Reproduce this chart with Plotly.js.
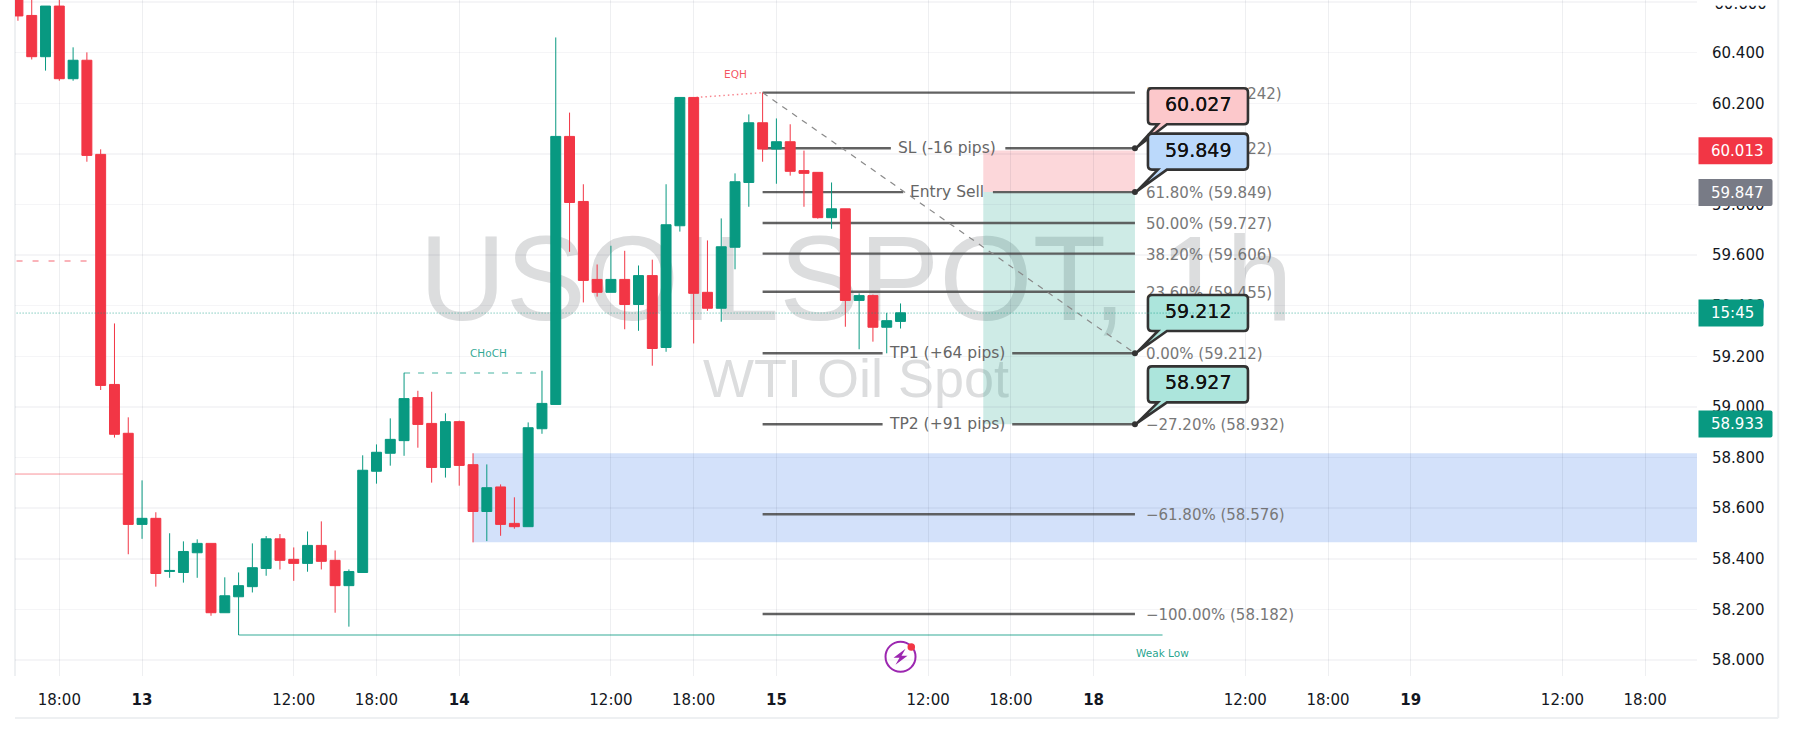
<!DOCTYPE html>
<html><head><meta charset="utf-8">
<script src="https://cdn.plot.ly/plotly-3.0.1.min.js"></script>
<style>html,body{margin:0;padding:0;background:#fff}#c{width:1793px;height:740px}</style>
</head><body><div id="c"></div>
<script>
const barIndex = [];
for (let b = -3; b <= 61; b++) barIndex.push(b);
const open = [60.634,60.547,60.384,60.584,60.297,60.370,59.998,59.089,58.896,58.536,58.560,58.350,58.346,58.424,58.461,58.187,58.250,58.290,58.362,58.479,58.398,58.382,58.453,58.394,58.294,58.346,58.746,58.817,58.867,59.037,58.935,58.761,58.942,58.772,58.587,58.684,58.540,58.527,58.914,59.010,60.069,59.812,59.504,59.453,59.504,59.405,59.519,59.235,59.716,60.223,59.453,59.390,59.631,59.887,60.123,60.019,60.048,59.934,59.927,59.748,59.783,59.421,59.440,59.315,59.338];
const high = [60.650,60.650,60.584,60.620,60.421,60.401,60.018,59.330,58.959,58.710,58.584,58.501,58.469,58.477,58.461,58.327,58.346,58.461,58.490,58.498,58.445,58.508,58.548,58.433,58.358,58.809,58.852,58.955,59.135,59.064,59.060,58.975,58.946,58.817,58.773,58.694,58.643,58.939,59.143,60.460,60.163,59.880,59.563,59.637,59.617,59.559,59.582,59.880,60.223,60.223,59.658,59.745,59.923,60.156,60.242,60.140,60.117,60.013,59.927,59.887,59.783,59.449,59.444,59.372,59.409];
const low = [60.526,60.373,60.329,60.289,60.289,59.969,59.067,58.879,58.418,58.479,58.290,58.325,58.306,58.325,58.175,58.187,58.099,58.267,58.333,58.358,58.313,58.349,58.358,58.187,58.132,58.346,58.697,58.768,58.807,58.839,58.701,58.721,58.689,58.465,58.470,58.491,58.519,58.527,58.894,59.010,59.613,59.413,59.436,59.453,59.307,59.301,59.163,59.218,59.693,59.251,59.380,59.337,59.544,59.791,59.969,59.882,59.914,59.791,59.744,59.704,59.317,59.228,59.258,59.212,59.310];
const close = [60.545,60.384,60.584,60.297,60.370,59.994,59.085,58.892,58.536,58.560,58.342,58.354,58.429,58.461,58.187,58.254,58.294,58.365,58.479,58.394,58.382,58.453,58.390,58.294,58.350,58.750,58.821,58.872,59.033,58.931,58.761,58.942,58.769,58.587,58.681,58.536,58.527,58.918,59.014,60.069,59.808,59.500,59.453,59.504,59.405,59.519,59.231,59.720,60.223,59.449,59.390,59.633,59.890,60.123,60.019,60.048,59.931,59.923,59.748,59.783,59.421,59.440,59.315,59.341,59.372];
const tickBars = [0,6,17,23,29,40,46,52,63,69,75,86,92,98,109,115];
const tickLabels = ['18:00','<b>13</b>','12:00','18:00','<b>14</b>','12:00','18:00','<b>15</b>','12:00','18:00','<b>18</b>','12:00','18:00','<b>19</b>','12:00','18:00'];
const fibLabels = ['100.00% (60.242)','78.60% (60.022)','61.80% (59.849)','50.00% (59.727)','38.20% (59.606)','23.60% (59.455)','0.00% (59.212)','−27.20% (58.932)','−61.80% (58.576)','−100.00% (58.182)'];
const fibPrices = [60.242,60.022,59.849,59.727,59.606,59.455,59.212,58.932,58.576,58.182];
const fibGapStart = [null,60.3,61.2,null,null,null,59.7,59.7,null,null];
const fibGapEnd = [null,68.6,67.7,null,null,null,69.1,69.1,null,null];
const tradeTexts = ['SL (-16 pips)','Entry Sell','TP1 (+64 pips)','TP2 (+91 pips)'];
const tradePrices = [60.022,59.849,59.212,58.932];
const calloutPrices = [60.022,59.849,59.212,58.932];
const calloutTexts = ['60.027','59.849','59.212','58.927'];
const calloutFills = ['#fcc8cb','#bbd9fb','#ace5dc','#ace5dc'];
const flagPrices = [60.012,59.847,59.371,58.933];
const flagTexts = ['60.013','59.847','15:45','58.933'];
const flagFills = ['#f23645','#787b86','#089981','#089981'];
const flagWidths = [74,74,65,74];
const calloutRise = [24,22.5,22.3,21.8];

const X_L=-3.213, X_R=118.757;
const FIB_L = 51, FIB_R = 78, RED='#f23645', GRN='#089981', TXT='#131722', FONT='"DejaVu Sans", sans-serif';
const H = (x0,x1,y,color,width,dash,layer) => ({type:'line',xref:'x',yref:'y',x0,x1,y0:y,y1:y,layer:layer||'below',line:{color,width,dash:dash||'solid'}});

const shapes = [];
shapes.push({type:'rect',xref:'paper',yref:'paper',x0:0.3,x1:0.7,y0:0.513,y1:0.697,layer:'below',line:{width:0},fillcolor:'rgba(0,0,0,0)',
  label:{text:'USOILSPOT, 1h',textposition:'middle center',font:{family:'"Liberation Sans"',size:120,color:'#dcddde'}}});
shapes.push({type:'rect',xref:'paper',yref:'paper',x0:0.3,x1:0.7,y0:0.398,y1:0.498,layer:'below',line:{width:0},fillcolor:'rgba(0,0,0,0)',
  label:{text:'WTI Oil Spot',textposition:'middle center',font:{family:'"Liberation Sans"',size:54,color:'#dcddde'}}});
[[0,0,0,1],[0,1.0483,-0.0621,-0.0621],[1.0483,1.0483,-0.0621,1]].forEach(f=>shapes.push({type:'line',xref:'paper',yref:'paper',x0:f[0],x1:f[1],y0:f[2],y1:f[3],layer:'below',line:{color:'#eef0f2',width:2}}));
shapes.push({type:'rect',xref:'x',yref:'y',x0:30,x1:X_R,y0:58.465,y1:58.817,layer:'below',line:{width:0},fillcolor:'rgba(33,100,230,0.195)'});
shapes.push({type:'rect',xref:'x',yref:'y',x0:67,x1:FIB_R,y0:59.849,y1:60.013,layer:'below',line:{width:0},fillcolor:'rgba(242,54,69,0.2)'});
shapes.push({type:'rect',xref:'x',yref:'y',x0:67,x1:FIB_R,y0:58.932,y1:59.849,layer:'below',line:{width:0},fillcolor:'rgba(8,153,129,0.2)'});
shapes.push(H(-3.1,2.3,59.577,'rgba(242,54,69,0.5)',1.5,'6px,10px'));
shapes.push(H(-3.3,5,58.735,'rgba(242,54,69,0.55)',1));
shapes.push(H(25,35,59.134,'rgba(8,153,129,0.5)',1.5,'6px,8px'));
shapes.push(H(13,80,58.099,'rgba(8,153,129,0.55)',1.5));
shapes.push({type:'line',xref:'x',yref:'y',x0:46.2,x1:FIB_L,y0:60.223,y1:60.242,layer:'below',line:{color:'rgba(242,54,69,0.6)',width:1.5,dash:'1.5px,3px'}});
const FIBC='rgba(85,85,85,0.92)', FIBW=2.4;
fibPrices.forEach((p,i)=>{
  const lab = {text:fibLabels[i],textposition:'end',textangle:0,xanchor:'left',yanchor:'middle',padding:11,font:{family:FONT,size:15,color:'#787878'}};
  if (fibGapStart[i]===null) {
    shapes.push(Object.assign(H(FIB_L,FIB_R,p,FIBC,FIBW),{label:lab}));
  } else {
    shapes.push(H(FIB_L,fibGapStart[i],p,FIBC,FIBW));
    shapes.push(Object.assign(H(fibGapEnd[i],FIB_R,p,FIBC,FIBW),{label:lab}));
  }
});
shapes.push({type:'line',xref:'x',yref:'y',x0:FIB_L,x1:FIB_R,y0:fibPrices[0],y1:fibPrices[6],layer:'below',line:{color:'#8a8a8a',width:1.2,dash:'6px,6px'}});
const r=4,xa=13,xb=113;
calloutPrices.forEach((p,i)=>{
  const bot=calloutRise[i], top=bot+36;
  const path=`M ${xa+r} ${top} L ${xb-r} ${top} Q ${xb} ${top} ${xb} ${top-r} L ${xb} ${bot+r} Q ${xb} ${bot} ${xb-r} ${bot} L 32 ${bot} L 2 1 L 23 ${bot} L ${xa+r} ${bot} Q ${xa} ${bot} ${xa} ${bot+r} L ${xa} ${top-r} Q ${xa} ${top} ${xa+r} ${top} Z`;
  shapes.push({type:'path',xref:'x',yref:'y',xsizemode:'pixel',ysizemode:'pixel',xanchor:FIB_R,yanchor:p,path,layer:'above',fillcolor:calloutFills[i],line:{color:'#333',width:2.6}});
  shapes.push({type:'circle',xref:'x',yref:'y',xsizemode:'pixel',ysizemode:'pixel',xanchor:FIB_R,yanchor:p,x0:-3,x1:3,y0:-3,y1:3,layer:'above',fillcolor:'#333',line:{width:0}});
});
shapes.push(H(X_L-0.1,X_R,59.371,'rgba(8,153,129,0.75)',1,'1px,2px','above'));
// top tick label, mostly hidden by a white flag as in the reference
shapes.push({type:'rect',xref:'paper',yref:'paper',x0:1.0085,x1:1.045,y0:0.98,y1:1.012,layer:'above',line:{width:0},fillcolor:'rgba(0,0,0,0)',
  label:{text:'60.600',textposition:'middle left',padding:0,font:{family:FONT,size:15,color:TXT}}});
shapes.push({type:'rect',xref:'paper',yref:'paper',x0:1.0012,x1:1.0455,y0:0.9916,y1:1.002,layer:'above',line:{width:0},fillcolor:'#ffffff'});
flagPrices.forEach((p,i)=>{
  const w=flagWidths[i]+1.5,a=1.5,b=-13.5,c=13.5,q=2;
  shapes.push({type:'path',xref:'paper',yref:'y',xsizemode:'pixel',ysizemode:'pixel',xanchor:1,yanchor:p,layer:'above',fillcolor:flagFills[i],line:{width:0},
   path:`M ${a} ${c} L ${w-q} ${c} Q ${w} ${c} ${w} ${c-q} L ${w} ${b+q} Q ${w} ${b} ${w-q} ${b} L ${a} ${b} Z`});
});
const bx=61,by=58.013;
shapes.push({type:'circle',xref:'x',yref:'y',xsizemode:'pixel',ysizemode:'pixel',xanchor:bx,yanchor:by,x0:-15,x1:15,y0:-15,y1:15,layer:'above',fillcolor:'rgba(0,0,0,0)',line:{color:'#9c27b0',width:2}});
shapes.push({type:'path',xref:'x',yref:'y',xsizemode:'pixel',ysizemode:'pixel',xanchor:bx,yanchor:by,layer:'above',fillcolor:'#9c27b0',line:{width:0},path:'M 5 8 L -7 -1 L -1 -1 L -5 -8 L 7 1 L 1 1 Z'});
shapes.push({type:'circle',xref:'x',yref:'y',xsizemode:'pixel',ysizemode:'pixel',xanchor:bx,yanchor:by,x0:7,x1:14.5,y0:6,y1:13.5,layer:'above',fillcolor:RED,line:{width:0}});

const ann = (x,y,text,size,color,extra)=>Object.assign({xref:'x',yref:'y',x,y,text,showarrow:false,xanchor:'center',yanchor:'middle',font:{family:FONT,size,color}},extra||{});
const annotations = [];
annotations.push(ann(49,60.317,'EQH',10.5,'rgba(242,54,69,0.85)'));
annotations.push(ann(31.1,59.214,'CHoCH',10.5,'rgba(8,153,129,0.85)'));
annotations.push(ann(80,58.029,'Weak Low',10.5,'rgba(8,153,129,0.9)'));
tradeTexts.forEach((t,i)=>annotations.push(ann(64.4,tradePrices[i],t,15.5,'#666')));
calloutTexts.forEach((t,i)=>annotations.push(ann(FIB_R,calloutPrices[i],t,19,'#111',{xshift:63,yshift:calloutRise[i]+20,font:{family:FONT,size:19,color:'#111',shadow:'0 0 0.6px #111'}})));
flagTexts.forEach((t,i)=>annotations.push({xref:'paper',yref:'y',x:1,y:flagPrices[i],text:t,showarrow:false,xanchor:'left',yanchor:'middle',xshift:12,font:{family:FONT,size:15,color:'#fff'}}));

const trace = {type:'candlestick',x:barIndex,open,high,low,close,hoverinfo:'skip',showlegend:false,whiskerwidth:0,
  increasing:{line:{color:GRN,width:1},fillcolor:GRN},decreasing:{line:{color:RED,width:1},fillcolor:RED}};

Plotly.newPlot('c',[trace],{
  width:1793,height:740,margin:{l:15,r:96.3,t:0,b:64,pad:0},paper_bgcolor:'#fff',plot_bgcolor:'#fff',showlegend:false,
  boxgap:0.28,boxgroupgap:0,
  font:{family:FONT,color:TXT},
  xaxis:{type:'linear',range:[X_L,X_R],tickmode:'array',tickvals:tickBars,ticktext:tickLabels,rangeslider:{visible:false},showgrid:true,gridcolor:'rgba(20,30,60,0.07)',gridwidth:1,zeroline:false,showline:false,ticks:'',tickfont:{size:15,color:TXT,family:FONT},ticklabelstandoff:13,automargin:false,tickangle:0},
  yaxis:{side:'right',range:[57.937,60.608],tick0:58,dtick:0.2,tickformat:'.3f',showgrid:true,gridcolor:'rgba(20,30,60,0.045)',gridwidth:1.5,zeroline:false,showline:false,ticks:'',tickfont:{size:15,color:TXT,family:FONT},ticklabelstandoff:14,automargin:false},
  shapes,annotations
},{staticPlot:true,displayModeBar:false,responsive:false});
</script></body></html>
